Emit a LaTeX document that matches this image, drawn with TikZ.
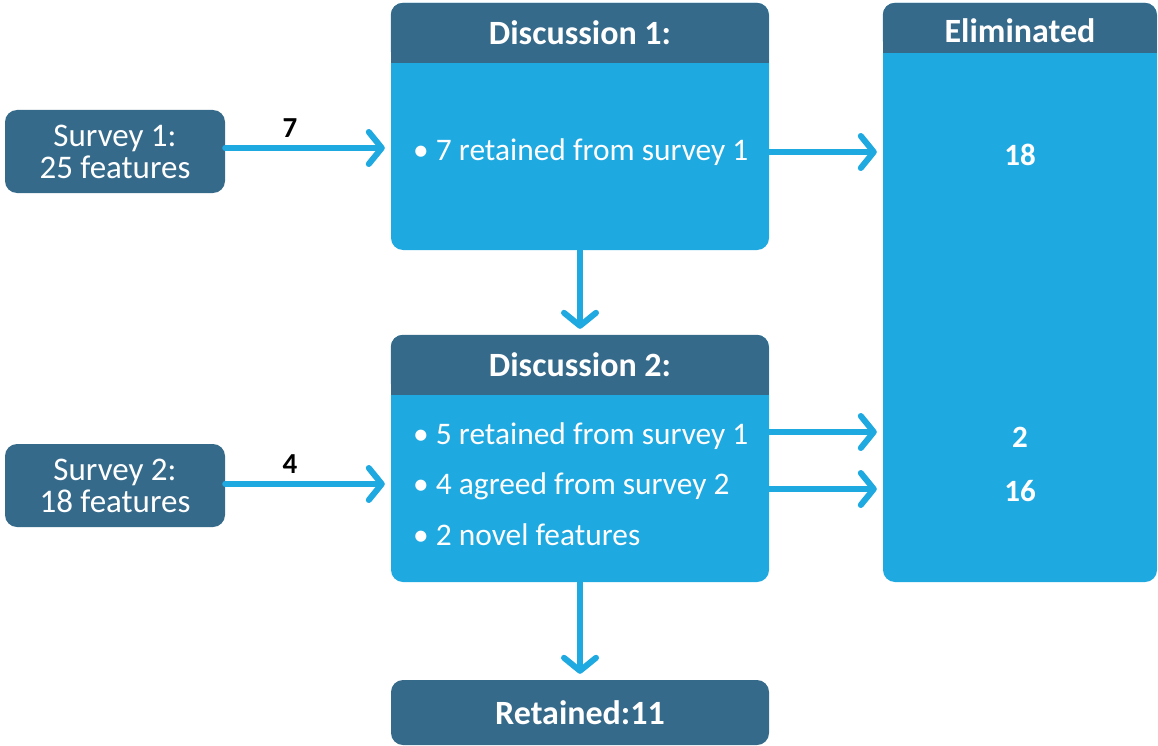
\documentclass[tikz,border=0pt]{standalone}
\usepackage{fontspec}
\setmainfont{Carlito}
\usetikzlibrary{arrows.meta}
\definecolor{darkb}{HTML}{366A8A}
\definecolor{lightb}{HTML}{1FA9E1}
\tikzset{
  darkbox/.style={fill=darkb, rounded corners=12pt, inner sep=0pt, text=white},
  lightbox/.style={fill=lightb, rounded corners=12pt, inner sep=0pt},
  survtext/.style={text=white, align=center, inner sep=0pt, font=\fontsize{33}{32}\selectfont},
  htext/.style={text=white, font=\bfseries\fontsize{34}{36}\selectfont},
  btext/.style={text=white, anchor=west, inner sep=0pt, font=\fontsize{31.4}{34}\selectfont},
  ntext/.style={text=white, font=\bfseries\fontsize{31}{34}\selectfont},
  lbl/.style={text=black, font=\bfseries\fontsize{29}{32}\selectfont},
  flow/.style={draw=lightb, line width=6pt, line cap=round,
    -{Straight Barb[length=13pt,width=32pt,round]}, shorten >=6pt},
}
\begin{document}
\begin{tikzpicture}[x=1pt,y=-1pt]
\useasboundingbox (0,0) rectangle (1158,746);
% survey boxes
\node[darkbox, minimum width=220pt, minimum height=83pt] (s1) at (115,151.5) {};
\node[survtext] (st1) at (s1) {Survey 1:\\25 features};
\node[darkbox, minimum width=220pt, minimum height=83pt] (s2) at (115,485.5) {};
\node[survtext] (st2) at (s2) {Survey 2:\\18 features};
% discussion 1
\node[lightbox, minimum width=378pt, minimum height=247pt] (d1) at (580,126.5) {};
\fill[darkb, rounded corners=12pt] (d1.north west) rectangle ++(378pt,-60pt);
\fill[darkb] ([yshift=-30pt]d1.north west) rectangle ([yshift=-60pt]d1.north east);
\node[htext] (h1) at ([yshift=-30pt]d1.north) {Discussion 1:};
\node[btext] (t1) at (413,152) {• 7 retained from survey 1};
% discussion 2
\node[lightbox, minimum width=378pt, minimum height=247pt] (d2) at (580,458.5) {};
\fill[darkb, rounded corners=12pt] (d2.north west) rectangle ++(378pt,-60pt);
\fill[darkb] ([yshift=-30pt]d2.north west) rectangle ([yshift=-60pt]d2.north east);
\node[htext] (h2) at ([yshift=-30pt]d2.north) {Discussion 2:};
\node[btext] (i1) at (413,436) {• 5 retained from survey 1};
\node[btext] (i2) at (413,486) {• 4 agreed from survey 2};
\node[btext] (i3) at (413,535) {• 2 novel features};
% eliminated
\node[lightbox, minimum width=274pt, minimum height=579pt] (el) at (1020,292.5) {};
\fill[darkb, rounded corners=12pt] (el.north west) rectangle ++(274pt,-50pt);
\fill[darkb] ([yshift=-25pt]el.north west) rectangle ([yshift=-50pt]el.north east);
\node[htext] (he) at ([yshift=-28pt]el.north) {Eliminated};
\node[ntext] (n18) at (1020,155) {18};
\node[ntext] (n2) at (1020,437) {2};
\node[ntext] (n16) at (1020,491) {16};
% retained
\node[darkbox, minimum width=378pt, minimum height=65pt] (r) at (580,712.5) {};
\node[htext] at (r) {Retained:11};
% arrows
\draw[flow] (s1.east |- 0,148) -- (d1.west |- 0,148);
\node[lbl] (l7) at (290,128) {7};
\draw[flow] (s2.east |- 0,484) -- (d2.west |- 0,484);
\node[lbl] (l4) at (290,464) {4};
\draw[flow] (d1.east |- t1) -- (el.west |- t1);
\draw[flow] (d2.east |- 0,432) -- (el.west |- 0,432);
\draw[flow] (d2.east |- 0,489) -- (el.west |- 0,489);
\draw[flow] (d1.south) -- (d2.north);
\draw[flow] (d2.south) -- (r.north);
\end{tikzpicture}
\end{document}
